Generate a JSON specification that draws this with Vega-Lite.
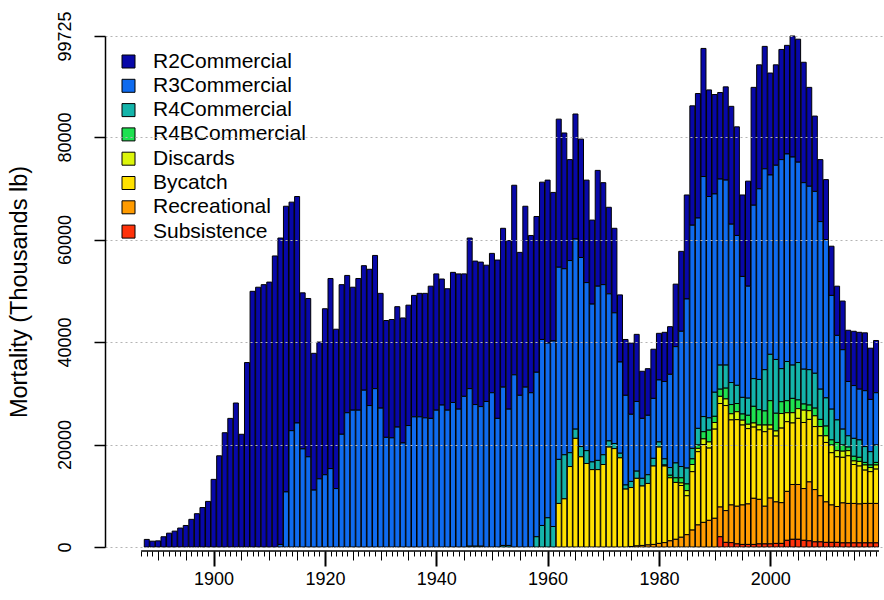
{
  "$schema": "https://vega.github.io/schema/vega-lite/v6.json",
  "width": 779,
  "height": 511,
  "autosize": "none",
  "padding": {"left": 105, "top": 36, "right": 0, "bottom": 53},
  "background": "white",
  "config": {"view": {"stroke": null}, "font": "Liberation Sans"},
  "resolve": {"axis": {"x": "independent"}},
  "layer": [
    {
      "data": {"values": [
        {"year":1888,"R2Commercial":1480},{"year":1889,"R2Commercial":1140},{"year":1890,"R2Commercial":1200},{"year":1891,"R2Commercial":2000},
        {"year":1892,"R2Commercial":2700},{"year":1893,"R2Commercial":3100},{"year":1894,"R2Commercial":3700},{"year":1895,"R2Commercial":4200},
        {"year":1896,"R2Commercial":5400},{"year":1897,"R2Commercial":6500},{"year":1898,"R2Commercial":7700},{"year":1899,"R2Commercial":8900},
        {"year":1900,"R2Commercial":13200},{"year":1901,"R2Commercial":17800},{"year":1902,"R2Commercial":22300},{"year":1903,"R2Commercial":25100},
        {"year":1904,"R2Commercial":28100},{"year":1905,"R2Commercial":22000},{"year":1906,"R2Commercial":36000},{"year":1907,"R2Commercial":49900},
        {"year":1908,"R2Commercial":50700},{"year":1909,"R2Commercial":51200},{"year":1910,"R2Commercial":51700},{"year":1911,"R2Commercial":56800},
        {"year":1912,"R2Commercial":59800,"R3Commercial":500},
        {"year":1913,"R2Commercial":55750,"R3Commercial":10750},
        {"year":1914,"R2Commercial":44600,"R3Commercial":22700},
        {"year":1915,"R2Commercial":44200,"R3Commercial":24200},
        {"year":1916,"R2Commercial":30450,"R3Commercial":19150},
        {"year":1917,"R2Commercial":30900,"R3Commercial":17600},
        {"year":1918,"R2Commercial":26700,"R3Commercial":11100},
        {"year":1919,"R2Commercial":26700,"R3Commercial":13300},
        {"year":1920,"R2Commercial":32400,"R3Commercial":14100},
        {"year":1921,"R2Commercial":37100,"R3Commercial":15300},
        {"year":1922,"R2Commercial":31100,"R3Commercial":11400},
        {"year":1923,"R2Commercial":29200,"R3Commercial":22000},
        {"year":1924,"R2Commercial":26800,"R3Commercial":26200},
        {"year":1925,"R2Commercial":24000,"R3Commercial":26700},
        {"year":1926,"R2Commercial":25700,"R3Commercial":26700},
        {"year":1927,"R2Commercial":24300,"R3Commercial":30600},
        {"year":1928,"R2Commercial":26600,"R3Commercial":27600},
        {"year":1929,"R2Commercial":26000,"R3Commercial":30900},
        {"year":1930,"R2Commercial":22400,"R3Commercial":27100},
        {"year":1931,"R2Commercial":22800,"R3Commercial":21400},
        {"year":1932,"R2Commercial":23100,"R3Commercial":21300},
        {"year":1933,"R2Commercial":23500,"R3Commercial":23400},
        {"year":1934,"R2Commercial":24400,"R3Commercial":20300},
        {"year":1935,"R2Commercial":23500,"R3Commercial":23700},
        {"year":1936,"R2Commercial":23700,"R3Commercial":25400},
        {"year":1937,"R2Commercial":24100,"R3Commercial":25400},
        {"year":1938,"R2Commercial":24300,"R3Commercial":25200},
        {"year":1939,"R2Commercial":25800,"R3Commercial":25100},
        {"year":1940,"R2Commercial":26600,"R3Commercial":26700},
        {"year":1941,"R2Commercial":24600,"R3Commercial":27700},
        {"year":1942,"R2Commercial":23700,"R3Commercial":26700},
        {"year":1943,"R2Commercial":25400,"R3Commercial":28200},
        {"year":1944,"R2Commercial":26400,"R3Commercial":26900},
        {"year":1945,"R2Commercial":23900,"R3Commercial":29400},
        {"year":1946,"R2Commercial":29400,"R3Commercial":30750,"R4Commercial":150},
        {"year":1947,"R2Commercial":28000,"R3Commercial":27650,"R4Commercial":150},
        {"year":1948,"R2Commercial":28200,"R3Commercial":27250,"R4Commercial":150},
        {"year":1949,"R2Commercial":26600,"R3Commercial":28400},
        {"year":1950,"R2Commercial":27200,"R3Commercial":30100},
        {"year":1951,"R2Commercial":30900,"R3Commercial":25100},
        {"year":1952,"R2Commercial":31000,"R3Commercial":30900,"R4Commercial":300},
        {"year":1953,"R2Commercial":32900,"R3Commercial":26600,"R4Commercial":300},
        {"year":1954,"R2Commercial":37000,"R3Commercial":33600},
        {"year":1955,"R2Commercial":27900,"R3Commercial":29600},
        {"year":1956,"R2Commercial":35300,"R3Commercial":31200},
        {"year":1957,"R2Commercial":30700,"R3Commercial":30100},
        {"year":1958,"R2Commercial":30400,"R3Commercial":32100,"R4Commercial":2000},
        {"year":1959,"R2Commercial":30700,"R3Commercial":36300,"R4Commercial":4200},
        {"year":1960,"R2Commercial":31800,"R3Commercial":34100,"R4Commercial":5700},
        {"year":1961,"R2Commercial":29000,"R3Commercial":36200,"R4Commercial":4000},
        {"year":1962,"R2Commercial":28900,"R3Commercial":37500,"R4Commercial":8600,"Bycatch":8500},
        {"year":1963,"R2Commercial":26500,"R3Commercial":36300,"R4Commercial":8600,"Bycatch":9400},
        {"year":1964,"R2Commercial":19700,"R3Commercial":37500,"R4Commercial":2700,"Bycatch":15700},
        {"year":1965,"R2Commercial":24400,"R3Commercial":37100,"R4Commercial":1800,"Bycatch":21200},
        {"year":1966,"R2Commercial":23100,"R3Commercial":36900,"R4Commercial":2000,"Bycatch":17600},
        {"year":1967,"R2Commercial":20000,"R3Commercial":32800,"R4Commercial":2500,"Bycatch":16300},
        {"year":1968,"R2Commercial":16400,"R3Commercial":30800,"R4Commercial":1500,"Bycatch":15100},
        {"year":1969,"R2Commercial":22600,"R3Commercial":34000,"R4Commercial":1800,"Bycatch":15100},
        {"year":1970,"R2Commercial":19900,"R3Commercial":33200,"R4Commercial":1900,"Bycatch":16100},
        {"year":1971,"R2Commercial":16900,"R3Commercial":28700,"R4Commercial":1200,"Bycatch":19500},
        {"year":1972,"R2Commercial":16500,"R3Commercial":25500,"R4Commercial":1000,"Bycatch":19200},
        {"year":1973,"R2Commercial":13100,"R3Commercial":17800,"R4Commercial":900,"Bycatch":17400},
        {"year":1974,"R2Commercial":10900,"R3Commercial":17500,"R4Commercial":800,"Bycatch":11300},
        {"year":1975,"R2Commercial":13900,"R3Commercial":13100,"R4Commercial":1200,"Bycatch":11500,"Recreational":100},
        {"year":1976,"R2Commercial":13100,"R3Commercial":13600,"R4Commercial":1400,"Bycatch":13200,"Recreational":200},
        {"year":1977,"R2Commercial":9200,"R3Commercial":11700,"R4Commercial":1500,"Bycatch":11600,"Recreational":300},
        {"year":1978,"R2Commercial":9100,"R3Commercial":11600,"R4Commercial":1700,"Bycatch":12000,"Recreational":400},
        {"year":1979,"R2Commercial":9600,"R3Commercial":11700,"R4Commercial":1500,"Bycatch":15300,"Recreational":500},
        {"year":1980,"R2Commercial":9100,"R3Commercial":12100,"R4Commercial":1000,"Bycatch":18800,"Recreational":700},
        {"year":1981,"R2Commercial":9600,"R3Commercial":15100,"R4Commercial":1200,"R4BCommercial":200,"Bycatch":14950,"Recreational":850},
        {"year":1982,"R2Commercial":9300,"R3Commercial":18200,"R4Commercial":1500,"R4BCommercial":500,"Bycatch":12300,"Recreational":1200},
        {"year":1983,"R2Commercial":12200,"R3Commercial":22700,"R4Commercial":2900,"R4BCommercial":900,"Bycatch":11100,"Recreational":1500},
        {"year":1984,"R2Commercial":15600,"R3Commercial":26400,"R4Commercial":2200,"R4BCommercial":1000,"Discards":500,"Bycatch":10100,"Recreational":1900},
        {"year":1985,"R2Commercial":20300,"R3Commercial":33000,"R4Commercial":3100,"R4BCommercial":1300,"Discards":1000,"Bycatch":7600,"Recreational":2400},
        {"year":1986,"R2Commercial":23300,"R3Commercial":43550,"R4Commercial":2050,"R4BCommercial":1100,"Discards":1400,"Bycatch":11400,"Recreational":3300},
        {"year":1987,"R2Commercial":24300,"R3Commercial":41050,"R4Commercial":3250,"R4BCommercial":650,"Discards":650,"Bycatch":14300,"Recreational":4300},
        {"year":1988,"R2Commercial":25000,"R3Commercial":46850,"R4Commercial":2950,"R4BCommercial":1400,"Discards":1100,"Bycatch":15200,"Recreational":4800},
        {"year":1989,"R2Commercial":20800,"R3Commercial":43200,"R4Commercial":2400,"R4BCommercial":2300,"Discards":1200,"Bycatch":14100,"Recreational":5200},
        {"year":1990,"R2Commercial":19400,"R3Commercial":38700,"R4Commercial":4700,"R4BCommercial":1200,"Discards":1300,"Bycatch":17400,"Recreational":5600},
        {"year":1991,"R2Commercial":16900,"R3Commercial":36300,"R4Commercial":4700,"R4BCommercial":1400,"Discards":1400,"Bycatch":20200,"Recreational":5800,"Subsistence":2000},
        {"year":1992,"R2Commercial":18200,"R3Commercial":36100,"R4Commercial":4500,"R4BCommercial":2100,"Discards":1300,"Bycatch":20500,"Recreational":6200,"Subsistence":900},
        {"year":1993,"R2Commercial":23000,"R3Commercial":30900,"R4Commercial":4300,"R4BCommercial":1800,"Discards":1200,"Bycatch":16600,"Recreational":7350,"Subsistence":850},
        {"year":1994,"R2Commercial":21200,"R3Commercial":29250,"R4Commercial":3550,"R4BCommercial":1600,"Discards":1550,"Bycatch":16900,"Recreational":7350,"Subsistence":600},
        {"year":1995,"R2Commercial":15900,"R3Commercial":23600,"R4Commercial":3250,"R4BCommercial":1200,"Discards":950,"Bycatch":15600,"Recreational":7700,"Subsistence":500},
        {"year":1996,"R2Commercial":20500,"R3Commercial":21850,"R4Commercial":3350,"R4BCommercial":1750,"Discards":850,"Bycatch":14700,"Recreational":7900,"Subsistence":500},
        {"year":1997,"R2Commercial":23000,"R3Commercial":33850,"R4Commercial":5400,"R4BCommercial":3250,"Discards":800,"Bycatch":13900,"Recreational":9000,"Subsistence":500},
        {"year":1998,"R2Commercial":24200,"R3Commercial":37200,"R4Commercial":5900,"R4BCommercial":3000,"Discards":950,"Bycatch":13550,"Recreational":8700,"Subsistence":600},
        {"year":1999,"R2Commercial":23900,"R3Commercial":39200,"R4Commercial":8050,"R4BCommercial":2750,"Discards":1300,"Bycatch":14550,"Recreational":7350,"Subsistence":600},
        {"year":2000,"R2Commercial":19900,"R3Commercial":35000,"R4Commercial":9050,"R4BCommercial":4750,"Discards":800,"Bycatch":13450,"Recreational":8950,"Subsistence":600},
        {"year":2001,"R2Commercial":19600,"R3Commercial":37900,"R4Commercial":10500,"R4BCommercial":3450,"Discards":1000,"Bycatch":12850,"Recreational":8100,"Subsistence":700},
        {"year":2002,"R2Commercial":21500,"R3Commercial":40800,"R4Commercial":6450,"R4BCommercial":2300,"Discards":2850,"Bycatch":14550,"Recreational":7950,"Subsistence":700},
        {"year":2003,"R2Commercial":21200,"R3Commercial":40500,"R4Commercial":7650,"R4BCommercial":2350,"Discards":1750,"Bycatch":13600,"Recreational":9550,"Subsistence":1300},
        {"year":2004,"R2Commercial":23625,"R3Commercial":40600,"R4Commercial":6500,"R4BCommercial":2800,"Discards":2000,"Bycatch":12000,"Recreational":10700,"Subsistence":1500},
        {"year":2005,"R2Commercial":24000,"R3Commercial":39100,"R4Commercial":7300,"R4BCommercial":1700,"Discards":1900,"Bycatch":12900,"Recreational":10700,"Subsistence":1500},
        {"year":2006,"R2Commercial":23500,"R3Commercial":36400,"R4Commercial":6800,"R4BCommercial":1200,"Discards":2400,"Bycatch":12900,"Recreational":10100,"Subsistence":1300},
        {"year":2007,"R2Commercial":19300,"R3Commercial":35800,"R4Commercial":6900,"R4BCommercial":1100,"Discards":1700,"Bycatch":12200,"Recreational":11500,"Subsistence":1200},
        {"year":2008,"R2Commercial":14700,"R3Commercial":35500,"R4Commercial":6800,"R4BCommercial":1500,"Discards":2100,"Bycatch":12300,"Recreational":10200,"Subsistence":1000},
        {"year":2009,"R2Commercial":12100,"R3Commercial":32700,"R4Commercial":5900,"R4BCommercial":1400,"Discards":1800,"Bycatch":11700,"Recreational":9000,"Subsistence":1000},
        {"year":2010,"R2Commercial":11700,"R3Commercial":30900,"R4Commercial":5500,"R4BCommercial":1900,"Discards":1300,"Bycatch":11600,"Recreational":7900,"Subsistence":900},
        {"year":2011,"R2Commercial":9600,"R3Commercial":22200,"R4Commercial":6000,"R4BCommercial":1000,"Discards":1500,"Bycatch":10200,"Recreational":7300,"Subsistence":900},
        {"year":2012,"R2Commercial":9600,"R3Commercial":16500,"R4Commercial":4400,"R4BCommercial":1600,"Discards":1200,"Bycatch":9700,"Recreational":7000,"Subsistence":900},
        {"year":2013,"R2Commercial":9500,"R3Commercial":15500,"R4Commercial":3100,"R4BCommercial":1200,"Discards":1200,"Bycatch":8900,"Recreational":7800,"Subsistence":800},
        {"year":2014,"R2Commercial":10000,"R3Commercial":10600,"R4Commercial":2200,"R4BCommercial":700,"Discards":1000,"Bycatch":9300,"Recreational":7700,"Subsistence":800},
        {"year":2015,"R2Commercial":10600,"R3Commercial":10300,"R4Commercial":3500,"R4BCommercial":900,"Discards":700,"Bycatch":7600,"Recreational":7700,"Subsistence":800},
        {"year":2016,"R2Commercial":11100,"R3Commercial":9900,"R4Commercial":3400,"R4BCommercial":800,"Discards":900,"Bycatch":7400,"Recreational":7600,"Subsistence":800},
        {"year":2017,"R2Commercial":11300,"R3Commercial":10900,"R4Commercial":3100,"R4BCommercial":500,"Discards":1000,"Bycatch":6500,"Recreational":7700,"Subsistence":800},
        {"year":2018,"R2Commercial":10000,"R3Commercial":10200,"R4Commercial":2600,"R4BCommercial":500,"Discards":800,"Bycatch":6200,"Recreational":7700,"Subsistence":800},
        {"year":2019,"R2Commercial":10200,"R3Commercial":10200,"R4Commercial":3400,"R4BCommercial":500,"Discards":800,"Bycatch":6700,"Recreational":7700,"Subsistence":800}
      ]},
      "transform": [
        {"fold": ["R2Commercial","R3Commercial","R4Commercial","R4BCommercial","Discards","Bycatch","Recreational","Subsistence"], "as": ["series","value"]},
        {"filter": "isValid(datum.value) && datum.value > 0"},
        {"calculate": "indexof(['Subsistence','Recreational','Bycatch','Discards','R4BCommercial','R4Commercial','R3Commercial','R2Commercial'], datum.series)", "as": "ord"}
      ],
      "mark": {"type": "bar", "size": 5, "stroke": "black", "strokeWidth": 1},
      "encoding": {
        "x": {
          "field": "year", "type": "quantitative",
          "scale": {"domain": [1881.39, 2019.53], "nice": false, "zero": false},
          "axis": {
            "orient": "bottom",
            "values": [1887,1888,1889,1890,1891,1892,1893,1894,1895,1896,1897,1898,1899,1900,1901,1902,1903,1904,1905,1906,1907,1908,1909,1910,1911,1912,1913,1914,1915,1916,1917,1918,1919,1920,1921,1922,1923,1924,1925,1926,1927,1928,1929,1930,1931,1932,1933,1934,1935,1936,1937,1938,1939,1940,1941,1942,1943,1944,1945,1946,1947,1948,1949,1950,1951,1952,1953,1954,1955,1956,1957,1958,1959,1960,1961,1962,1963,1964,1965,1966,1967,1968,1969,1970,1971,1972,1973,1974,1975,1976,1977,1978,1979,1980,1981,1982,1983,1984,1985,1986,1987,1988,1989,1990,1991,1992,1993,1994,1995,1996,1997,1998,1999,2000,2001,2002,2003,2004,2005,2006,2007,2008,2009,2010,2011,2012,2013,2014,2015,2016,2017,2018,2019],
            "domain": false,
            "offset": 4,
            "title": null,
            "grid": false,
            "labels": false,
            "tickColor": "black",
            "tickSize": 5,
            "tickWidth": 1
          }
        },
        "y": {
          "field": "value", "type": "quantitative", "stack": "zero",
          "scale": {"domain": [0, 99725], "nice": false},
          "axis": {
            "values": [0, 20000, 40000, 60000, 80000, 99725],
            "format": "d",
            "title": "Mortality (Thousands lb)",
            "titleFontSize": 23.5,
            "titleFontWeight": "normal",
            "titleColor": "black",
            "titlePadding": 25,
            "labelAngle": -90,
            "labelAlign": "center",
            "labelBaseline": "bottom",
            "labelFontSize": 18,
            "labelColor": "black",
            "labelPadding": 20,
            "labelFlush": false,
            "labelOverlap": false,
            "tickSize": 11,
            "tickColor": "black",
            "tickWidth": 1.5,
            "domainColor": "black",
            "domainWidth": 1.5,
            "grid": true,
            "gridColor": "#b4b4b4",
            "gridDash": [2, 3],
            "gridWidth": 1,
            "zindex": 1
          }
        },
        "color": {
          "field": "series", "type": "nominal",
          "scale": {
            "domain": ["R2Commercial","R3Commercial","R4Commercial","R4BCommercial","Discards","Bycatch","Recreational","Subsistence"],
            "range": ["#0808A8","#0F6BEF","#14B4AA","#1EE150","#DCF50A","#FFE100","#FF9B00","#FF320A"]
          },
          "legend": {
            "title": null,
            "orient": "none",
            "legendX": 13,
            "legendY": 15,
            "padding": 0,
            "symbolType": "square",
            "symbolSize": 169,
            "symbolStrokeColor": "black",
            "symbolStrokeWidth": 1,
            "symbolOpacity": 1,
            "labelFontSize": 21,
            "labelColor": "black",
            "labelOffset": 14,
            "labelLimit": 300,
            "rowPadding": 2.3
          }
        },
        "order": {"field": "ord", "type": "quantitative"}
      }
    },
    {
      "data": {"values": [{}]},
      "mark": {"type": "rule", "color": "black", "strokeWidth": 1.2, "yOffset": 4},
      "encoding": {
        "x": {
          "datum": 1887, "type": "quantitative",
          "axis": {
            "orient": "bottom",
            "values": [1890,1895,1905,1910,1915,1925,1930,1935,1945,1950,1955,1965,1970,1975,1985,1990,1995,2005,2010,2015],
            "domain": false,
            "offset": 4,
            "title": null,
            "grid": false,
            "labels": false,
            "tickColor": "black",
            "tickSize": 9,
            "tickWidth": 1
          }
        },
        "x2": {"datum": 2019.53},
        "y": {"datum": 0, "type": "quantitative"}
      }
    },
    {
      "data": {"values": [{}]},
      "mark": {"type": "rule", "color": "black", "strokeWidth": 1.2, "yOffset": 4},
      "encoding": {
        "x": {
          "datum": 1887, "type": "quantitative",
          "axis": {
            "orient": "bottom",
            "values": [1900, 1920, 1940, 1960, 1980, 2000],
            "format": "d",
            "domain": false,
            "offset": 4,
            "title": null,
            "grid": false,
            "tickColor": "black",
            "tickSize": 15,
            "tickWidth": 2,
            "labelFontSize": 18,
            "labelColor": "black",
            "labelPadding": 4,
            "labelOverlap": false,
            "labelFlush": false,
            "labelBound": false
          }
        },
        "x2": {"datum": 2019.53},
        "y": {"datum": 0, "type": "quantitative"}
      }
    }
  ]
}
